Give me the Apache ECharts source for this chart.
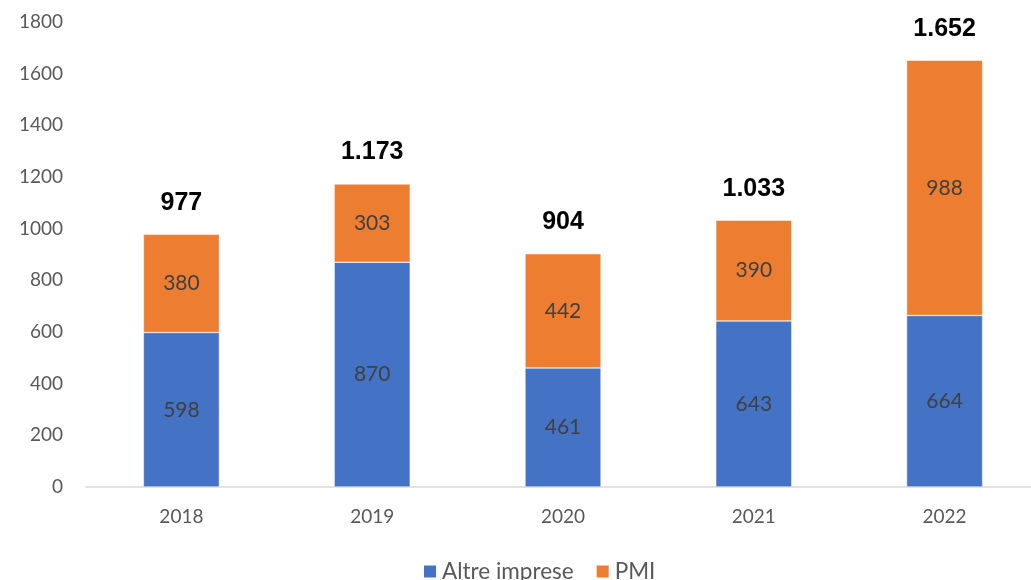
<!DOCTYPE html>
<html>
<head>
<meta charset="utf-8">
<script src="https://cdn.jsdelivr.net/npm/echarts@6/dist/echarts.min.js"></script>
<style>html,body{margin:0;padding:0;background:#fff;overflow:hidden}#c{width:1040px;height:580px}</style>
</head>
<body>
<div id="c"></div>
<script>
const categories = ['2018', '2019', '2020', '2021', '2022'];
const altreImprese = [598, 870, 461, 643, 664];
const pmi = [380, 303, 442, 390, 988];
const totals = ['977', '1.173', '904', '1.033', '1.652'];
const yTicks = [0, 200, 400, 600, 800, 1000, 1200, 1400, 1600, 1800];

const chart = echarts.init(document.getElementById('c'));
const font = 'Lato, "Open Sans", sans-serif';
chart.setOption({
  animation: false,
  color: ['#4472C4', '#ED7D31'],
  grid: { left: 86, top: 22, bottom: 93, right: 0 },
  legend: {
    bottom: -3,
    left: 422,
    padding: 0,
    itemWidth: 14,
    itemHeight: 14,
    itemGap: 21,
    icon: 'rect',
    textStyle: { fontFamily: font, fontSize: 22.5, color: '#595959' },
    data: ['Altre imprese', 'PMI']
  },
  xAxis: {
    type: 'category',
    data: categories,
    axisLine: { lineStyle: { color: '#D9D9D9', width: 1.5 } },
    axisTick: { show: false },
    axisLabel: { fontFamily: font, fontSize: 19, color: '#595959', margin: 20 }
  },
  yAxis: {
    type: 'value',
    min: yTicks[0],
    max: yTicks[yTicks.length - 1],
    interval: 200,
    axisLine: { show: false },
    axisTick: { show: false },
    splitLine: { show: false },
    axisLabel: { fontFamily: font, fontSize: 19, color: '#595959', margin: 23, formatter: v => String(v) }
  },
  series: [
    {
      name: 'Altre imprese',
      type: 'bar',
      stack: 't',
      data: altreImprese,
      barWidth: 76,
      itemStyle: { borderColor: '#fff', borderWidth: 0.5 },
      label: { show: true, position: 'inside', fontFamily: font, fontSize: 21, color: '#404040' }
    },
    {
      name: 'PMI',
      type: 'bar',
      stack: 't',
      data: pmi,
      barWidth: 76,
      itemStyle: { borderColor: '#fff', borderWidth: 0.5 },
      label: { show: true, position: 'inside', fontFamily: font, fontSize: 21, color: '#404040' }
    },
    {
      name: 'Totale',
      type: 'bar',
      stack: 't',
      data: totals.map(() => 0),
      barWidth: 76,
      itemStyle: { color: 'transparent' },
      label: {
        show: true,
        position: 'top',
        distance: 19,
        formatter: p => totals[p.dataIndex],
        fontFamily: '"Liberation Sans", Arial, sans-serif',
        fontWeight: 'bold',
        fontSize: 25,
        color: '#000'
      }
    }
  ]
});
</script>
</body>
</html>
